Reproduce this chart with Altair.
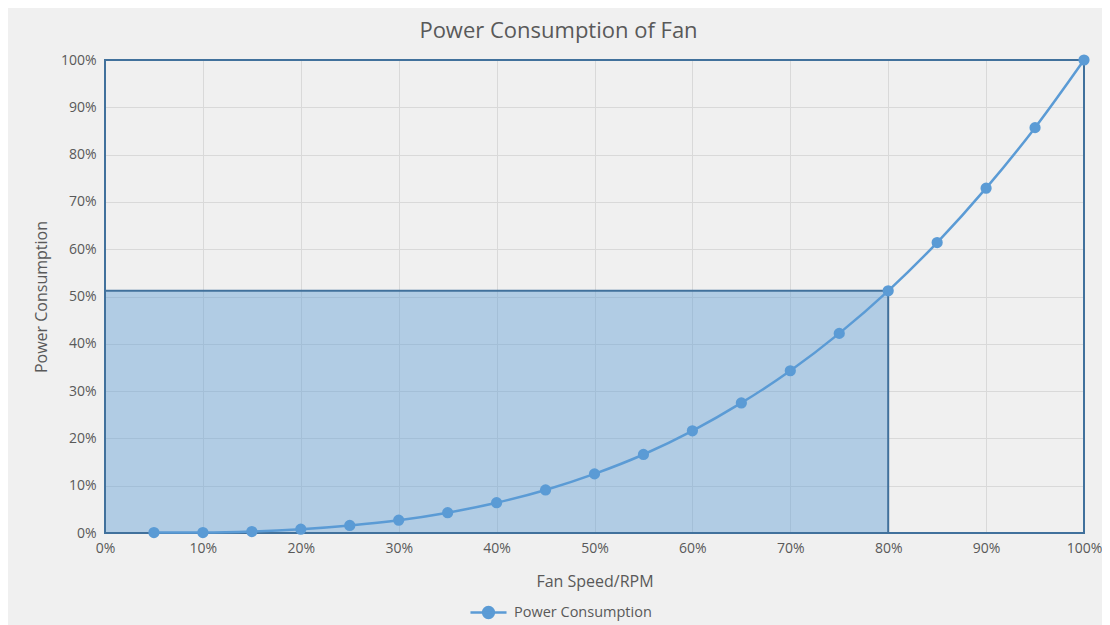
import altair as alt
import pandas as pd

# Data
fan_speed = [0.05, 0.10, 0.15, 0.20, 0.25, 0.30, 0.35, 0.40, 0.45, 0.50,
             0.55, 0.60, 0.65, 0.70, 0.75, 0.80, 0.85, 0.90, 0.95, 1.00]
power = [0.001, 0.001, 0.003, 0.008, 0.016, 0.027, 0.043, 0.064, 0.091, 0.125,
         0.166, 0.216, 0.275, 0.343, 0.422, 0.512, 0.614, 0.729, 0.857, 1.000]
series_name = "Power Consumption"

# Highlighted operating region (80% speed -> 51.2% power) and the full 100% box
region_x = [0.0, 0.0]
region_x2 = [0.80, 1.0]
region_y = [0.0, 0.0]
region_y2 = [0.512, 1.0]
region_fill = [0.42, 0.0]

tick_vals = [0.0, 0.1, 0.2, 0.3, 0.4, 0.5, 0.6, 0.7, 0.8, 0.9, 1.0]

df = pd.DataFrame({"speed": fan_speed, "power": power, "series": [series_name] * len(fan_speed)})
reg = pd.DataFrame({"x": region_x, "x2": region_x2, "y": region_y, "y2": region_y2, "op": region_fill})

BLUE = "#5b9bd5"
DARK = "#41719c"
TXT = "#595959"
FONT = "Open Sans"

xscale = alt.Scale(domain=[0, 1], nice=False)
yscale = alt.Scale(domain=[0, 1], nice=False)

xaxis = alt.Axis(title="Fan Speed/RPM", format=".0%", values=tick_vals, ticks=False, domain=False,
                 labelFlush=False, labelOverlap=False, labelPadding=8, titlePadding=18)
yaxis = alt.Axis(title="Power Consumption", format=".0%", values=tick_vals, ticks=False, domain=False,
                 labelFlush=False, labelOverlap=False, labelPadding=9, titlePadding=11)

rect = alt.Chart(reg).mark_rect(fill=BLUE, stroke=DARK, strokeWidth=2).encode(
    x=alt.X("x:Q", scale=xscale, axis=xaxis),
    x2="x2:Q",
    y=alt.Y("y:Q", scale=yscale, axis=yaxis),
    y2="y2:Q",
    fillOpacity=alt.FillOpacity("op:Q", scale=None, legend=None),
)

line = alt.Chart(df).mark_line(interpolate="monotone", color=BLUE, strokeWidth=2.5).encode(
    x=alt.X("speed:Q", scale=xscale),
    y=alt.Y("power:Q", scale=yscale),
)

legend_path = "M-1,0H1M-0.3,0A0.3,0.3 0 1,1 0.3,0A0.3,0.3 0 1,1 -0.3,0Z"

def make_legend():
    return alt.Legend(title=None, orient="none", legendX=364, legendY=533,
                      symbolType=legend_path, symbolSize=1300, symbolStrokeWidth=2.5,
                      labelFont=FONT, labelFontSize=14.5, labelColor=TXT, labelOffset=6)

points = alt.Chart(df).mark_point(filled=True, size=85, opacity=1).encode(
    x=alt.X("speed:Q", scale=xscale),
    y=alt.Y("power:Q", scale=yscale),
    fill=alt.Fill("series:N", scale=alt.Scale(range=[BLUE]), legend=make_legend()),
    stroke=alt.Stroke("series:N", scale=alt.Scale(range=[BLUE]), legend=make_legend()),
)

chart = alt.layer(rect, line, points).properties(
    width=979,
    height=473,
    background="#f0f0f0",
    padding={"left": 97, "top": 52, "right": 18, "bottom": 92},
    autosize=alt.AutoSizeParams(type="none"),
    title=alt.TitleParams("Power Consumption of Fan", anchor="middle", frame="group", dx=-36,
                          offset=8, font=FONT, fontSize=22, fontWeight="normal", color=TXT),
).configure_view(
    strokeWidth=0
).configure_axis(
    gridColor="#d9d9d9", gridWidth=1, labelFont=FONT, labelFontSize=14, labelColor=TXT,
    titleFont=FONT, titleFontSize=16, titleFontWeight="normal", titleColor=TXT,
)

chart.save("out.html", embed_options={"renderer": "svg", "actions": False})
